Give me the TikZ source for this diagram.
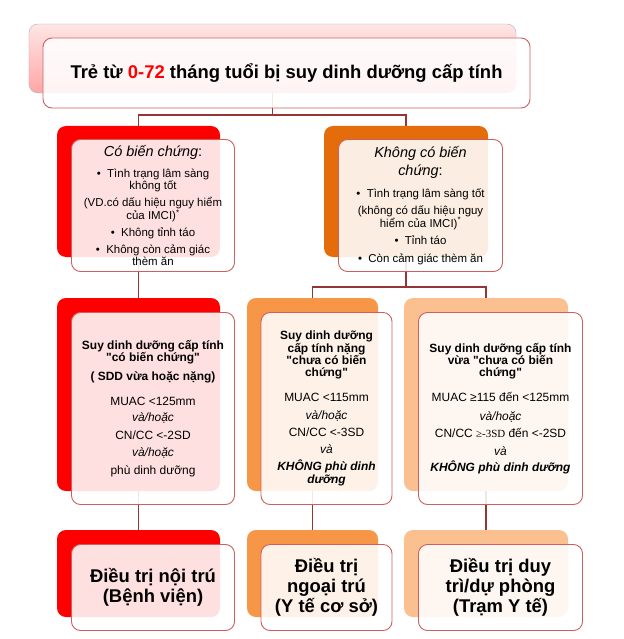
\documentclass[tikz,border=0pt]{standalone}
\usepackage{fontspec}
\setmainfont{Liberation Sans}
\newfontfamily\serifsym{Liberation Serif}
\usetikzlibrary{positioning, backgrounds}

\definecolor{linkred}{RGB}{150,54,52}
\definecolor{rimred}{RGB}{205,95,95}
\definecolor{cred}{RGB}{255,0,0}
\definecolor{corange}{RGB}{228,108,10}
\definecolor{camber}{RGB}{247,150,70}
\definecolor{cpeach}{RGB}{250,192,144}

\newcommand{\hdsize}{\fontsize{14.5}{15}\selectfont}
\newcommand{\qt}{\textquotedbl}

\begin{document}
\begin{tikzpicture}[
  x=1bp, y=-1bp,
  back/.style={rounded corners=9bp, inner sep=0pt},
  front/.style={draw=rimred, line width=0.9bp, fill=white, fill opacity=0.88,
    text opacity=1, rounded corners=9bp, inner sep=0pt, align=center},
  link/.style={draw=linkred, line width=1.6bp},
  small/.style={font=\fontsize{11.5}{12}\selectfont},
  mid/.style={font=\fontsize{12}{12}\selectfont},
  big/.style={font=\fontsize{18.5}{20}\selectfont\bfseries},
  col1/.style={minimum width=163bp},
  col2/.style={minimum width=131bp},
  col3/.style={minimum width=164bp}
]
\useasboundingbox (0,0) rectangle (624,639);

\node[back, draw=black!30, top color=red!10, bottom color=red!35,
  minimum width=487bp, minimum height=69bp] (top-b) at (272.5,58.5) {};
\node[front, minimum width=487bp, minimum height=70bp,
  font=\fontsize{18.5}{20}\selectfont\bfseries] (top) at ([shift={(14,14.5)}]top-b.center)
  {Trẻ từ \textcolor{cred}{0-72} tháng tuổi bị suy dinh dưỡng cấp tính};

\node[back, fill=cred, col1, minimum height=131bp] (cb-b) at (138.5,191.5) {};
\node[front, small, col1, minimum height=132bp] (cb) at ([shift={(14.5,14)}]cb-b.center)
  {{\hdsize\textit{Có biến chứng}:}\\[9bp]
   •~~Tình trạng lâm sàng\\
   không tốt\\[5bp]
   (VD.có dấu hiệu nguy hiểm\\
   của IMCI)\textsuperscript{*}\\[5bp]
   •~~Không tỉnh táo\\[5bp]
   •~~Không còn cảm giác\\
   thèm ăn};

\node[back, fill=corange, col3, minimum height=131bp] (kcb-b) at (406,191.5) {};
\node[front, small, col3, minimum height=132bp] (kcb) at ([shift={(14.5,14)}]kcb-b.center)
  {{\hdsize\textit{Không có biến}}\\[3bp]
   {\hdsize\textit{chứng}:}\\[10bp]
   •~~Tình trạng lâm sàng tốt\\[5bp]
   (không có dấu hiệu nguy\\
   hiểm của IMCI)\textsuperscript{*}\\[5bp]
   •~~Tỉnh táo\\[6bp]
   •~~Còn cảm giác thèm ăn};

\node[back, fill=cred, col1, minimum height=193bp] (m1-b) at (138.5,394.5) {};
\node[front, mid, col1, minimum height=192bp] (m1) at ([shift={(14.5,14)}]m1-b.center)
  {\textbf{Suy dinh dưỡng cấp tính}\\
   \textbf{\qt có biến chứng\qt}\\[7bp]
   \textbf{( SDD vừa hoặc nặng)}\\[13bp]
   MUAC <125mm\\[4bp]
   \textit{và/hoặc}\\[6bp]
   CN/CC <-2SD\\[5bp]
   \textit{và/hoặc}\\[6bp]
   phù dinh dưỡng};

\node[back, fill=camber, col2, minimum height=193bp] (m2-b) at (312.5,394.5) {};
\node[front, mid, col2, minimum height=192bp] (m2) at ([shift={(14,14)}]m2-b.center)
  {\textbf{Suy dinh dưỡng}\\[1bp]
   \textbf{cấp tính nặng}\\
   \textbf{\qt chưa có biến}\\
   \textbf{chứng\qt}\\[13bp]
   MUAC <115mm\\[6bp]
   \textit{và/hoặc}\\[5bp]
   CN/CC <-3SD\\[5bp]
   \textit{và}\\[5bp]
   {\bfseries\itshape KHÔNG phù dinh}\\[1bp]
   {\bfseries\itshape dưỡng}};

\node[back, fill=cpeach, col3, minimum height=193bp] (m3-b) at (486,394.5) {};
\node[front, mid, col3, minimum height=192bp] (m3) at ([shift={(14.5,14)}]m3-b.center)
  {\textbf{Suy dinh dưỡng cấp tính}\\
   \textbf{vừa \qt chưa có biến}\\
   \textbf{chứng\qt}\\[13bp]
   MUAC ≥115 đến <125mm\\[7bp]
   \textit{và/hoặc}\\[5bp]
   CN/CC {\serifsym\fontsize{11}{12}\selectfont ≥-3SD} đến <-2SD\\[6bp]
   \textit{và}\\[4bp]
   {\bfseries\itshape KHÔNG phù dinh dưỡng}};

\node[back, fill=cred, col1, minimum height=87bp] (t1-b) at (138.5,573.5) {};
\node[front, big, col1, minimum height=86bp] (t1) at ([shift={(14.5,14)}]t1-b.center)
  {Điều trị nội trú\\ (Bệnh viện)};

\node[back, fill=camber, col2, minimum height=87bp] (t2-b) at (312.5,573.5) {};
\node[front, big, col2, minimum height=86bp] (t2) at ([shift={(14,14)}]t2-b.center)
  {Điều trị\\ ngoại trú\\ (Y tế cơ sở)};

\node[back, fill=cpeach, col3, minimum height=87bp] (t3-b) at (486,573.5) {};
\node[front, big, col3, minimum height=86bp] (t3) at ([shift={(14.5,14)}]t3-b.center)
  {Điều trị duy\\ trì/dự phòng\\ (Trạm Y tế)};

\begin{scope}[on background layer]
\draw[link] (top-b.south) -- ++(0,22) -| (cb-b.north);
\draw[link] (top-b.south) -- ++(0,22) -| (kcb-b.north);
\draw[link] (cb-b.south) -- (m1-b.north);
\draw[link] (kcb-b.south) -- ++(0,30) -| (m2-b.north);
\draw[link] (kcb-b.south) -- ++(0,30) -| (m3-b.north);
\draw[link] (m1-b.south) -- (t1-b.north);
\draw[link] (m2-b.south) -- (t2-b.north);
\draw[link] (m3-b.south) -- (t3-b.north);
\end{scope}
\end{tikzpicture}
\end{document}
